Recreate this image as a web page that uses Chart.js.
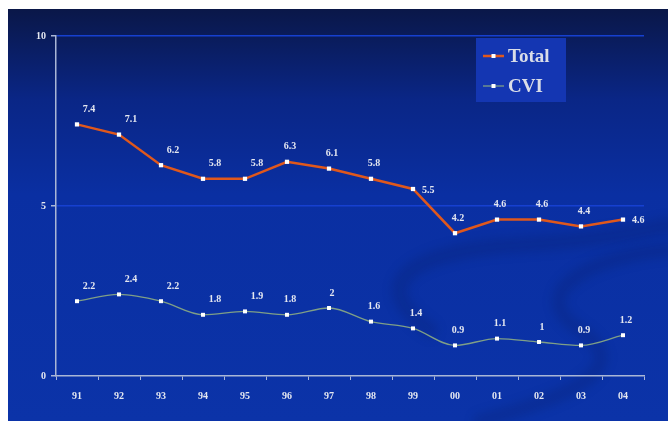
<!DOCTYPE html>
<html>
<head>
<meta charset="utf-8">
<script src="https://cdn.jsdelivr.net/npm/chart.js@4"></script>
<style>
  html, body { margin: 0; padding: 0; background: #fff; }
  #wrap { width: 668px; height: 421px; }
</style>
</head>
<body>
<div id="wrap"><canvas id="rateChart" width="668" height="421"></canvas></div>
<script>
// Yearly rates
const years = ["91", "92", "93", "94", "95", "96", "97", "98", "99", "00", "01", "02", "03", "04"];
const totalValues = [7.4, 7.1, 6.2, 5.8, 5.8, 6.3, 6.1, 5.8, 5.5, 4.2, 4.6, 4.6, 4.4, 4.6];
const cviValues = [2.2, 2.4, 2.2, 1.8, 1.9, 1.8, 2, 1.6, 1.4, 0.9, 1.1, 1, 0.9, 1.2];

const serif = "'Liberation Serif', 'Times New Roman', serif";
const textColor = "#e4e7f0";

// slide background: navy gradient with a faint swoosh
const slideBackground = {
  id: "slideBackground",
  beforeDraw(chart) {
    const ctx = chart.ctx;
    ctx.save();
    ctx.fillStyle = "#ffffff";
    ctx.fillRect(0, 0, chart.width, chart.height);
    const g = ctx.createLinearGradient(0, 9, 0, chart.height);
    g.addColorStop(0, "#0a1748");
    g.addColorStop(0.22, "#0a2686");
    g.addColorStop(0.45, "#0a2fa2");
    g.addColorStop(1, "#0b33a8");
    ctx.fillStyle = g;
    ctx.fillRect(8, 9, chart.width - 8, chart.height - 9);

    ctx.filter = "blur(5px)";
    ctx.strokeStyle = "rgba(5, 25, 90, 0.2)";
    ctx.lineCap = "round";
    ctx.lineWidth = 16;
    ctx.beginPath();
    ctx.moveTo(430, 330);
    ctx.bezierCurveTo(360, 280, 420, 250, 520, 245);
    ctx.bezierCurveTo(600, 240, 650, 230, 668, 225);
    ctx.stroke();
    ctx.lineWidth = 14;
    ctx.beginPath();
    ctx.moveTo(668, 250);
    ctx.bezierCurveTo(600, 255, 520, 290, 580, 330);
    ctx.bezierCurveTo(640, 370, 560, 400, 480, 421);
    ctx.stroke();
    ctx.restore();
  }
};

// value labels over each point
const valueLabels = {
  id: "valueLabels",
  afterDatasetsDraw(chart) {
    const ctx = chart.ctx;
    ctx.save();
    ctx.font = "bold 10px " + serif;
    ctx.fillStyle = textColor;
    ctx.textBaseline = "middle";
    chart.data.datasets.forEach((ds, di) => {
      const meta = chart.getDatasetMeta(di);
      meta.data.forEach((pt, i) => {
        const last = i === meta.data.length - 1;
        if (di === 0 && (last || i === 8)) {
          ctx.textAlign = "left";
          ctx.fillText(String(ds.data[i]), pt.x + 9, pt.y + 1);
        } else {
          ctx.textAlign = "center";
          const dx = i < 5 ? 12 : 3;
          ctx.fillText(String(ds.data[i]), pt.x + dx, pt.y - 15);
        }
      });
    });
    ctx.restore();
  }
};

// boxed legend in the upper right of the plot
const boxLegend = {
  id: "boxLegend",
  afterDraw(chart) {
    const ctx = chart.ctx;
    const x = 476, y = 38;
    ctx.save();
    ctx.fillStyle = "#1436b2";
    ctx.fillRect(x, y, 90, 64);
    ctx.font = "bold 19px " + serif;
    ctx.textBaseline = "middle";
    ctx.textAlign = "left";
    chart.data.datasets.forEach((ds, i) => {
      const cy = y + 18 + i * 30;
      ctx.strokeStyle = ds.borderColor;
      ctx.lineWidth = ds.borderWidth;
      ctx.beginPath();
      ctx.moveTo(x + 7, cy);
      ctx.lineTo(x + 28, cy);
      ctx.stroke();
      ctx.fillStyle = "#ffffff";
      ctx.fillRect(x + 15.5, cy - 2, 4, 4);
      ctx.fillStyle = "#d9dde8";
      ctx.fillText(ds.label, x + 32, cy + 1);
    });
    ctx.restore();
  }
};

new Chart(document.getElementById("rateChart"), {
  type: "line",
  data: {
    labels: years,
    datasets: [
      {
        label: "Total",
        data: totalValues,
        borderColor: "#e0581c",
        borderWidth: 2.5,
        pointStyle: "rect",
        pointRadius: 3,
        pointBackgroundColor: "#ffffff",
        pointBorderColor: "#ffffff",
        pointBorderWidth: 0,
        tension: 0
      },
      {
        label: "CVI",
        data: cviValues,
        borderColor: "#7f9f86",
        borderWidth: 1.3,
        pointStyle: "rect",
        pointRadius: 2.8,
        pointBackgroundColor: "#ffffff",
        pointBorderColor: "#ffffff",
        pointBorderWidth: 0,
        cubicInterpolationMode: "monotone"
      }
    ]
  },
  options: {
    responsive: false,
    animation: false,
    layout: { padding: { left: 8, right: 24, top: 36, bottom: 0 } },
    plugins: {
      legend: { display: false },
      tooltip: { enabled: false }
    },
    scales: {
      x: {
        offset: true,
        afterFit(scale) { scale.height = 45; },
        grid: {
          offset: true,
          drawOnChartArea: false,
          drawTicks: true,
          tickLength: 4,
          color: "#a9b6d6"
        },
        border: { color: "#a9b6d6", width: 1.5 },
        ticks: {
          color: textColor,
          padding: 10,
          font: { family: serif, size: 10, weight: "bold" }
        }
      },
      y: {
        min: 0,
        max: 10,
        afterFit(scale) { scale.width = 48; },
        grid: {
          color: (c) => (c.tick && c.tick.value === 0 ? "rgba(0,0,0,0)" : "#1640d0"),
          lineWidth: 1.5,
          drawTicks: true,
          tickLength: 5,
          tickColor: "#a9b6d6"
        },
        border: { color: "#a9b6d6", width: 1.5 },
        ticks: {
          stepSize: 5,
          color: textColor,
          padding: 5,
          font: { family: serif, size: 10, weight: "bold" }
        }
      }
    }
  },
  plugins: [slideBackground, valueLabels, boxLegend]
});
</script>
</body>
</html>
